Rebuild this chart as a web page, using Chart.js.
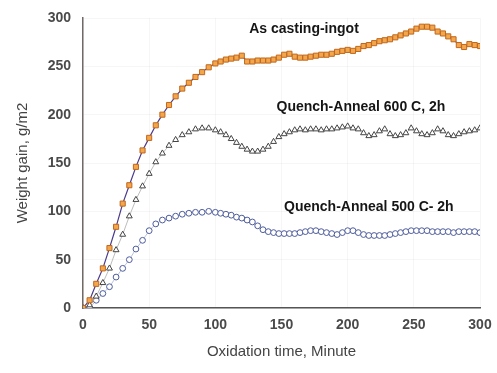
<!DOCTYPE html>
<html>
<head>
<meta charset="utf-8">
<script src="https://cdn.jsdelivr.net/npm/chart.js@4"></script>
<style>
  html, body { margin: 0; padding: 0; background: #fff; }
  #wrap { width: 497px; height: 373px; }
</style>
</head>
<body>
<div id="wrap"><canvas id="chart"></canvas></div>
<script>
"use strict";

// oxidation time, minutes
const times = [0, 5, 10, 15, 20, 25, 30, 35, 40, 45, 50, 55, 60, 65, 70, 75, 80, 85, 90, 95, 100,
    104, 108, 112, 116, 120, 124, 128, 132, 136, 140,
    144, 148, 152, 156, 160, 164, 168, 172, 176, 180,
    184, 188, 192, 196, 200, 204, 208, 212, 216, 220,
    224, 228, 232, 236, 240, 244, 248, 252, 256, 260,
    264, 268, 272, 276, 280, 284, 288, 292, 296, 300];

// weight gain, g/m2
const castingIngot = [0, 8, 25, 41, 62, 84, 108, 127, 146, 163, 176, 189, 200, 210, 219, 227, 233, 239, 244, 249, 253,
    255, 257, 258, 259, 261, 255, 255, 256, 256, 256,
    257, 259, 262, 263, 260, 259, 259, 260, 261, 262,
    262, 263, 265, 266, 267, 266, 268, 271, 272, 274,
    276, 277, 278, 280, 282, 284, 286, 289, 291, 291,
    290, 286, 284, 281, 278, 272, 270, 273, 272, 271];

const anneal600 = [0, 3, 12, 26, 41, 60, 76, 95, 112, 126, 139, 151, 160, 168, 174, 179, 182, 185, 186, 186, 184,
    182, 179, 175, 171, 167, 164, 162, 162, 164, 167,
    172, 177, 180, 182, 184, 185, 184, 185, 185, 184,
    185, 185, 186, 187, 188, 186, 185, 181, 178, 179,
    183, 185, 180, 178, 179, 181, 186, 183, 180, 179,
    181, 185, 183, 179, 178, 180, 182, 183, 184, 186];

const anneal500 = [0, 0, 8, 15, 22, 32, 41, 50, 61, 70, 80, 87, 91, 93, 95, 97, 98, 99, 99, 100, 99,
    98, 97, 96, 94, 93, 91, 89, 85, 81, 79,
    78, 77, 77, 77, 77, 78, 79, 80, 80, 79,
    78, 77, 76, 78, 80, 80, 78, 76, 75, 75,
    75, 75, 76, 77, 78, 79, 80, 80, 80, 80,
    79, 79, 79, 79, 78, 79, 79, 79, 79, 78];

const seriesLabels = ['As casting-ingot', 'Quench-Anneal 600 C, 2h', 'Quench-Anneal 500 C- 2h'];
// label anchor points in data units (minutes, g/m2)
const labelX = [167, 210, 216];
const labelY = [288, 208, 104];

const xTicks = [0, 50, 100, 150, 200, 250, 300];

function toPoints(values) {
    return values.map((v, i) => ({ x: times[i], y: v }));
}

const seriesLabelPlugin = {
    id: 'seriesLabels',
    afterDatasetsDraw(chart) {
        const { ctx, scales } = chart;
        ctx.save();
        ctx.font = 'bold 14px "Liberation Sans", Arial, sans-serif';
        ctx.fillStyle = '#151515';
        ctx.textAlign = 'center';
        ctx.textBaseline = 'middle';
        seriesLabels.forEach((text, i) => {
            ctx.fillText(text, scales.x.getPixelForValue(labelX[i]), scales.y.getPixelForValue(labelY[i]));
        });
        ctx.restore();
    }
};

const tickFont = { family: '"Liberation Sans", Arial, sans-serif', size: 14, weight: 'bold' };
const titleFont = { family: '"Liberation Sans", Arial, sans-serif', size: 15 };

const ctx = document.getElementById('chart').getContext('2d');
const chart = new Chart(ctx, {
    type: 'line',
    data: {
        datasets: [{
            label: seriesLabels[0],
            data: toPoints(castingIngot),
            borderColor: '#4a3a8c',
            borderWidth: 1.2,
            pointStyle: 'rect',
            pointRadius: 3.6,
            pointBackgroundColor: '#f3a64a',
            pointBorderColor: '#c0671e',
            pointBorderWidth: 1,
            tension: 0
        }, {
            label: seriesLabels[1],
            data: toPoints(anneal600),
            borderColor: '#bcbcbc',
            borderWidth: 1,
            pointStyle: 'triangle',
            pointRadius: 3.4,
            pointBackgroundColor: '#fff',
            pointBorderColor: '#444',
            pointBorderWidth: 1,
            tension: 0
        }, {
            label: seriesLabels[2],
            data: toPoints(anneal500),
            borderColor: '#aab4d6',
            borderWidth: 0.8,
            pointStyle: 'circle',
            pointRadius: 2.9,
            pointBackgroundColor: '#fff',
            pointBorderColor: '#4d5c9c',
            pointBorderWidth: 1,
            tension: 0
        }]
    },
    options: {
        responsive: true,
        maintainAspectRatio: false,
        animation: false,
        layout: { padding: { top: 18, right: 17, left: 0, bottom: 0 } },
        scales: {
            x: {
                type: 'linear',
                min: 0,
                max: 300,
                afterBuildTicks: (scale) => { scale.ticks = xTicks.map(v => ({ value: v })); },
                afterFit: (scale) => {
                    scale.height = 65;
                    scale.paddingLeft = 0;
                    scale.paddingRight = 0;
                },
                grid: { color: 'rgba(0,0,0,0.035)', drawTicks: false },
                border: { color: '#555', width: 1.5 },
                ticks: { font: tickFont, color: '#4a4a4a', padding: 9, maxRotation: 0 },
                title: {
                    display: true,
                    text: 'Oxidation time, Minute',
                    font: titleFont,
                    color: '#444',
                    padding: { top: 0, bottom: 12 }
                }
            },
            y: {
                min: 0,
                max: 300,
                afterFit: (scale) => {
                    scale.width = 83;
                    scale.paddingTop = 0;
                    scale.paddingBottom = 0;
                },
                grid: { color: 'rgba(0,0,0,0.035)', drawTicks: false },
                border: { color: '#6e6a66', width: 1.5 },
                ticks: { stepSize: 50, font: tickFont, color: '#4a4a4a', padding: 12 },
                title: {
                    display: true,
                    text: 'Weight gain, g/m2',
                    font: titleFont,
                    color: '#444',
                    padding: { top: 14, bottom: 0 }
                }
            }
        },
        plugins: {
            legend: { display: false },
            tooltip: { enabled: false }
        }
    },
    plugins: [seriesLabelPlugin]
});
</script>
</body>
</html>
